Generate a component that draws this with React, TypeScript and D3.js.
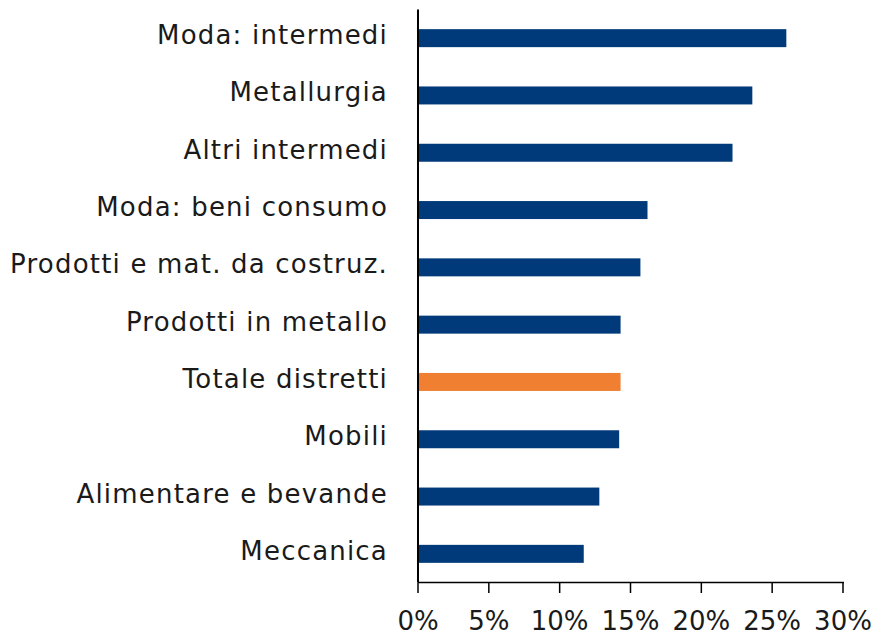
import React from "react";
import * as d3 from "d3";

const categories = [
  "Moda: intermedi",
  "Metallurgia",
  "Altri intermedi",
  "Moda: beni consumo",
  "Prodotti e mat. da costruz.",
  "Prodotti in metallo",
  "Totale distretti",
  "Mobili",
  "Alimentare e bevande",
  "Meccanica",
];
const values = [0.26, 0.236, 0.222, 0.162, 0.157, 0.143, 0.143, 0.142, 0.128, 0.117];
const highlight = "Totale distretti";
const ticks = [0, 0.05, 0.1, 0.15, 0.2, 0.25, 0.3];

const W = 872;
const H = 636;
const FONT = "'DejaVu Sans', sans-serif";

export default function App() {
  const x = d3.scaleLinear().domain([0, 0.3]).range([418, 843]);
  const y = d3
    .scaleBand<string>()
    .domain(categories)
    .range([9.5, 582.5])
    .paddingInner(0.686)
    .paddingOuter(0.343);
  const fmt = d3.format(".0%");
  return (
    <svg
      width={W}
      height={H}
      style={{ position: "absolute", left: 0, top: 0, background: "#fff" }}
      fontFamily={FONT}
    >
      {categories.map((c, i) => (
        <g key={c}>
          <rect
            x={x(0)}
            y={y(c)!}
            width={x(values[i]) - x(0)}
            height={y.bandwidth()}
            fill={c === highlight ? "#F07F32" : "#003A7A"}
          />
          <text
            x={388}
            y={y(c)! + y.bandwidth() / 2 + 6}
            textAnchor="end"
            fontSize={26}
            letterSpacing={1.2}
            fill="#1a1a1a"
          >
            {c}
          </text>
        </g>
      ))}
      <line x1={x(0)} x2={x(0)} y1={9.5} y2={582.5} stroke="#000" strokeWidth={2} />
      <line x1={x(0)} x2={x(0.3) + 1} y1={582.5} y2={582.5} stroke="#000" strokeWidth={1.5} />
      {ticks.map((t) => (
        <g key={t}>
          <line x1={x(t)} x2={x(t)} y1={582.5} y2={593} stroke="#000" strokeWidth={1.5} />
          <text x={x(t)} y={630} textAnchor="middle" fontSize={26} fill="#1a1a1a">
            {fmt(t)}
          </text>
        </g>
      ))}
    </svg>
  );
}
